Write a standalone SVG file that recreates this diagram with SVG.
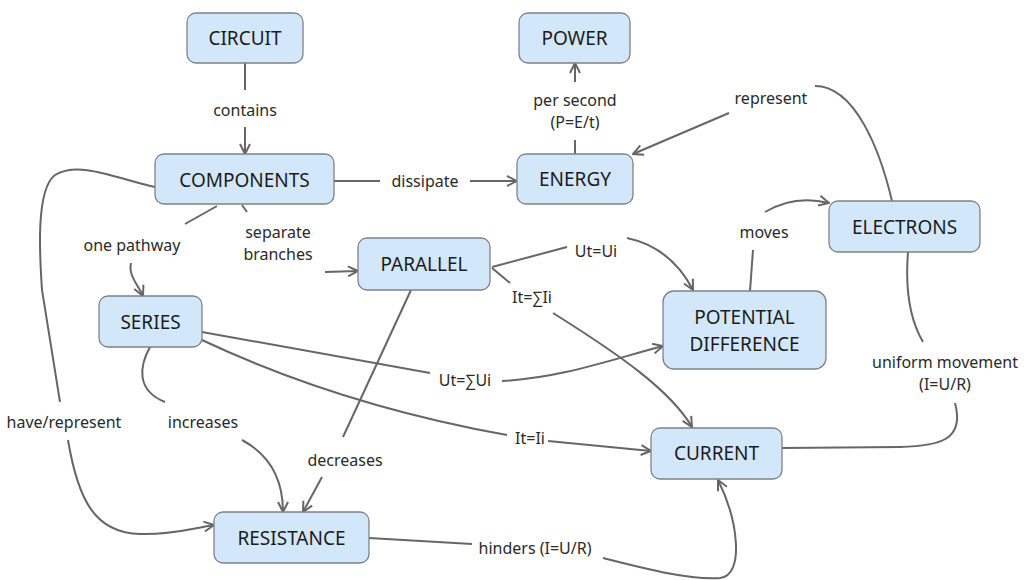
<svg xmlns="http://www.w3.org/2000/svg" width="1028" height="580" viewBox="0 0 1028 580">
<style>
.node rect{fill:#d3e7fb;stroke:#7d8288;stroke-width:1.3}
.node text{font-family:"Noto Sans","Open Sans","Liberation Sans",sans-serif;font-size:19px;fill:#1b1b1b;text-anchor:middle;dominant-baseline:central}
.lbl{font-family:"Noto Sans","Open Sans","Liberation Sans",sans-serif;font-size:16px;fill:#2a2a2a;text-anchor:middle;dominant-baseline:central}
#connectors path{fill:none;stroke:#666;stroke-width:2}
.a{marker-end:url(#arr)}
</style>
<defs>
<marker id="arr" viewBox="0 0 12 12" refX="11" refY="6" markerWidth="12" markerHeight="12" markerUnits="userSpaceOnUse" orient="auto">
<path d="M1,1 L11,6 L1,11" fill="none" stroke="#666" stroke-width="2"/>
</marker>
</defs>
<rect width="1028" height="580" fill="#fff"/>
<g id="connectors">
<path d="M245,63 V90"/><path class="a" d="M245,127 V154"/>
<path d="M334,181 H380"/><path class="a" d="M470,181 H517"/>
<path d="M575,154 V140"/><path class="a" d="M575,82 V63"/>
<path d="M892,201 C880,150 855,86 815,86"/><path class="a" d="M729,113 L633,154"/>
<path d="M217,206 L185,224"/><path class="a" d="M131,263 C128,275 138,285 143,296"/>
<path d="M242,205 L247,212"/><path class="a" d="M325,272 L358,271"/>
<path d="M155,187 C120,180 80,160 55,175 C35,190 40,260 42,290 L60,402"/><path class="a" d="M68,440 C78,500 95,533 140,534 C170,535 195,528 214,525"/>
<path d="M150,347 C140,365 135,390 165,402"/><path class="a" d="M242,440 C270,455 283,480 283,512"/>
<path d="M411,290 L343,437"/><path class="a" d="M322,477 L303,512"/>
<path d="M202,332 L430,373"/><path class="a" d="M502,381 C560,378 610,360 663,346"/>
<path d="M202,340 Q340,405 507,435"/><path class="a" d="M548,441 L651,451"/>
<path d="M492,267 L567,247"/><path class="a" d="M627,238 C660,245 680,265 693,290"/>
<path d="M492,268 L510,283"/><path class="a" d="M553,313 C620,355 670,390 692,427"/>
<path d="M750,291 L753,250"/><path class="a" d="M765,212 C785,200 805,197 829,203"/>
<path d="M908,252 C905,290 910,320 923,342"/><path d="M955,403 C965,440 940,446 900,447 L782,448"/>
<path d="M369,538 L472,544"/><path class="a" d="M603,558 C650,570 690,580 720,578 C745,575 738,520 718,480"/>
</g>
<g id="labels">
<text class="lbl" x="245" y="110">contains</text>
<text class="lbl" x="425" y="181">dissipate</text>
<text class="lbl" x="575" y="100">per second</text>
<text class="lbl" x="575" y="122">(P=E/t)</text>
<text class="lbl" x="771" y="98">represent</text>
<text class="lbl" x="132" y="245">one pathway</text>
<text class="lbl" x="278" y="232">separate</text>
<text class="lbl" x="278" y="254">branches</text>
<text class="lbl" x="64" y="422">have/represent</text>
<text class="lbl" x="203" y="422">increases</text>
<text class="lbl" x="345" y="460">decreases</text>
<text class="lbl" x="465" y="380">Ut=∑Ui</text>
<text class="lbl" x="530" y="438">It=Ii</text>
<text class="lbl" x="596" y="251">Ut=Ui</text>
<text class="lbl" x="532" y="297">It=∑Ii</text>
<text class="lbl" x="764" y="232">moves</text>
<text class="lbl" x="945" y="362">uniform movement</text>
<text class="lbl" x="945" y="384">(I=U/R)</text>
<text class="lbl" x="535" y="548">hinders (I=U/R)</text>
</g>
<g id="circuit" class="node"><rect x="187" y="13" width="116" height="50" rx="9"/><text x="245" y="38">CIRCUIT</text></g>
<g id="components" class="node"><rect x="155" y="154" width="179" height="50" rx="9"/><text x="244.5" y="180">COMPONENTS</text></g>
<g id="power" class="node"><rect x="519" y="13" width="111" height="50" rx="9"/><text x="574.5" y="38">POWER</text></g>
<g id="energy" class="node"><rect x="517" y="154" width="116" height="50" rx="9"/><text x="575" y="179">ENERGY</text></g>
<g id="parallel" class="node"><rect x="358" y="238" width="132" height="52" rx="9"/><text x="424" y="264">PARALLEL</text></g>
<g id="electrons" class="node"><rect x="829" y="201" width="151" height="51" rx="9"/><text x="904.5" y="227">ELECTRONS</text></g>
<g id="potential" class="node"><rect x="663" y="291" width="163" height="78" rx="11"/><text x="744.5" y="317">POTENTIAL</text><text x="744.5" y="344">DIFFERENCE</text></g>
<g id="series" class="node"><rect x="99" y="296" width="103" height="51" rx="9"/><text x="150.5" y="322">SERIES</text></g>
<g id="resistance" class="node"><rect x="214" y="512" width="155" height="51" rx="9"/><text x="291.5" y="538">RESISTANCE</text></g>
<g id="current" class="node"><rect x="651" y="428" width="131" height="51" rx="9"/><text x="716.5" y="453">CURRENT</text></g>
</svg>
